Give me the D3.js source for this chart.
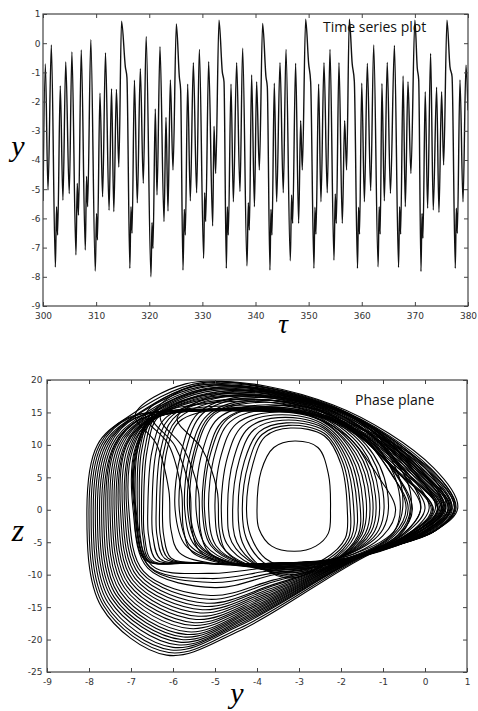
<!DOCTYPE html>
<html>
<head>
<meta charset="utf-8">
<script src="https://cdn.jsdelivr.net/npm/d3@7"></script>
<style>
  body { margin: 0; background: #fff; }
  .tick text { font-family: "DejaVu Sans", sans-serif; font-size: 9px; fill: #333; }
  .tick line { stroke: #444; }
</style>
</head>
<body>
<script>
// --- time series: tau and y (extrema + notches)
var seriesTau = [300.0, 300.44, 300.94, 301.57, 302.33, 302.55, 302.75, 303.25, 303.75, 304.28,
  304.94, 305.44, 306.2, 306.45, 306.68, 307.2, 307.96, 308.2, 308.4, 309.0,
  309.84, 310.08, 310.25, 310.72, 311.22, 311.76, 312.44, 312.9, 313.33, 313.82,
  314.27, 314.78, 315.5, 315.8, 316.35, 316.56, 316.76, 317.21, 317.75, 318.32,
  318.88, 319.42, 320.32, 320.52, 320.7, 321.14, 321.46, 322.02, 322.78, 323.15,
  323.53, 323.97, 324.47, 325.1, 325.66, 325.91, 326.35, 326.6, 326.79, 327.23,
  327.73, 328.3, 328.92, 329.43, 330.24, 330.43, 330.62, 331.18, 331.94, 332.19,
  332.5, 333.13, 333.75, 334.07, 334.51, 334.7, 334.88, 335.39, 335.83, 336.45,
  337.08, 337.58, 338.4, 338.65, 338.84, 339.27, 339.8, 340.21, 340.72, 341.34,
  341.97, 342.22, 342.72, 342.91, 343.1, 343.54, 343.98, 344.61, 345.23, 345.74,
  346.55, 346.8, 346.99, 347.55, 348.12, 348.5, 348.81, 349.44, 350.0, 350.38,
  351.0, 351.19, 351.38, 351.88, 352.32, 352.89, 353.51, 354.02, 354.77, 355.02,
  355.21, 355.71, 356.34, 356.78, 357.15, 357.66, 358.2, 358.6, 359.2, 359.4,
  359.58, 360.0, 360.5, 361.05, 361.68, 362.25, 363.08, 363.28, 363.47, 363.8,
  364.25, 364.8, 365.4, 366.15, 366.93, 367.13, 367.32, 367.78, 368.2, 368.7,
  369.25, 370.0, 370.45, 370.72, 371.15, 371.34, 371.52, 371.95, 372.4, 372.96,
  373.46, 374.09, 374.53, 375.03, 375.41, 376.04, 376.6, 377.0, 377.61, 377.8,
  377.99, 378.49, 379.06, 379.62, 380.0];
var seriesY = [-5.4, -0.71, -5.03, -0.06, -7.67, -5.6, -6.57, -1.46, -5.38, -0.64,
  -5.15, -0.3, -7.25, -4.8, -5.89, -0.23, -7.08, -4.56, -5.6, 0.12,
  -7.8, -5.83, -6.74, -1.71, -5.26, -0.33, -5.72, -1.56, -5.77, -1.58,
  -4.24, 0.75, -0.81, -1.18, -7.71, -5.6, -6.51, -1.27, -5.47, -0.87,
  -4.8, 0.23, -8.0, -6.14, -7.03, -2.25, -5.2, -0.12, -6.11, -2.54,
  -5.75, -1.26, -4.34, 0.66, -1.15, -1.6, -7.77, -5.69, -6.57, -1.4,
  -5.4, -0.67, -5.12, -0.21, -7.37, -5.12, -6.11, -0.63, -6.26, -2.84,
  -4.46, 0.79, -0.98, -1.32, -7.71, -5.6, -6.57, -1.4, -5.43, -0.67,
  -5.08, -0.17, -7.63, -5.46, -6.4, -1.09, -5.6, -1.32, -4.34, 0.68,
  -1.15, -1.49, -7.77, -5.69, -6.57, -1.37, -5.43, -0.67, -5.12, -0.21,
  -7.45, -5.2, -6.17, -0.69, -6.17, -2.65, -4.34, 0.82, -0.69, -1.32,
  -7.71, -5.62, -6.54, -1.4, -5.43, -0.67, -5.12, -0.21, -7.43, -5.16,
  -6.17, -0.67, -6.17, -2.65, -4.34, 0.82, -0.7, -1.3, -7.71, -5.62,
  -6.54, -1.37, -5.43, -0.69, -5.05, -0.06, -7.66, -5.6, -6.54, -1.38,
  -5.4, -0.66, -5.14, -0.08, -7.68, -5.6, -6.54, -1.12, -5.6, -1.32,
  -4.46, 0.79, -0.85, -1.25, -7.82, -5.83, -6.68, -1.66, -5.65, -0.35,
  -5.71, -1.51, -5.8, -1.66, -4.17, 0.79, -0.8, -1.15, -7.71, -5.65,
  -6.51, -1.26, -5.43, -0.75, -2.3];

var tauTicks = [300, 310, 320, 330, 340, 350, 360, 370, 380];
var yTicksTop = [-9, -8, -7, -6, -5, -4, -3, -2, -1, 0, 1];

// --- phase plane: orbit loops [y, z]
// big loops that reach down to the bottom of the attractor
var outerLoops = [
  [[-8.05,0],[-7.8,10],[-7.1,14.2],[-5.3,19.6],[-2.2,16.2],[0.2,6.5],[0.78,0.3],[0.3,-3],[-1.3,-6.8],[-4.4,-18.6],[-6.15,-22.4],[-7.7,-15]],
  [[-8.0,0],[-7.75,10],[-7.08,14.15],[-5.6,15.3],[-2.7,15.1],[0,7],[0.74,0.3],[0.28,-3.1],[-1.35,-6.85],[-4.4,-18.2],[-6.1,-22],[-7.65,-14.8]],
  [[-7.95,0],[-7.7,10],[-7.05,14.1],[-5.0,15.4],[-2.6,14.8],[-0.2,7.5],[0.7,0.4],[0.25,-3.2],[-1.4,-6.9],[-4.4,-17.8],[-6.05,-21.6],[-7.6,-14.6]],
  [[-7.9,0],[-7.65,10],[-7.0,14.1],[-5.25,19.3],[-2.15,15.8],[0.15,6.3],[0.72,0.3],[0.22,-3.3],[-1.45,-7.05],[-4.35,-17.4],[-6.0,-21.2],[-7.55,-14.3]],
  [[-7.85,0],[-7.6,10],[-6.95,14.2],[-5.2,19.1],[-2.1,15.6],[0.1,6.2],[0.7,0.3],[0.2,-3.4],[-1.5,-7.2],[-4.3,-17],[-5.9,-20.8],[-7.5,-14]],
  [[-7.8,0],[-7.55,10],[-6.92,14.1],[-4.9,15.5],[-2.55,14.6],[-0.25,7.2],[0.65,0.2],[0.15,-3.45],[-1.55,-7.3],[-4.25,-16.6],[-5.85,-20.4],[-7.45,-13.7]],
  [[-7.75,0],[-7.5,10],[-6.9,14.1],[-4.8,15.6],[-2.5,14.5],[-0.3,7],[0.6,0.2],[0.1,-3.5],[-1.6,-7.4],[-4.2,-16.2],[-5.8,-20],[-7.4,-13.5]],
  [[-7.7,0],[-7.45,10],[-6.85,14.05],[-5.15,19],[-2.05,15.4],[0.05,6.1],[0.64,0.3],[0.05,-3.55],[-1.65,-7.5],[-4.15,-15.8],[-5.75,-19.6],[-7.35,-13.2]],
  [[-7.65,0],[-7.4,10],[-6.8,14],[-5.1,18.8],[-2.0,15.2],[0,6],[0.62,0.3],[0,-3.6],[-1.7,-7.6],[-4.1,-15.4],[-5.7,-19.2],[-7.3,-13]],
  [[-7.6,0],[-7.38,10],[-6.78,14],[-4.7,15.5],[-2.45,14.3],[-0.35,6.9],[0.55,0.2],[-0.05,-3.7],[-1.75,-7.7],[-4.05,-15],[-5.65,-18.8],[-7.25,-12.7]],
  [[-7.55,0],[-7.35,10],[-6.75,14],[-4.6,15.5],[-2.4,14.2],[-0.4,6.8],[0.5,0.2],[-0.1,-3.8],[-1.8,-7.8],[-4.0,-14.6],[-5.6,-18.3],[-7.2,-12.4]],
  [[-7.5,0],[-7.3,10],[-6.72,13.95],[-5.05,18.6],[-2.0,15.1],[-0.05,5.9],[0.57,0.2],[-0.15,-3.85],[-1.85,-7.9],[-3.95,-14.2],[-5.55,-17.8],[-7.15,-12.1]],
  [[-7.45,0],[-7.25,10],[-6.7,13.9],[-5,18.4],[-2,15],[-0.1,5.8],[0.55,0.2],[-0.2,-3.9],[-1.9,-8],[-3.9,-13.8],[-5.5,-17.4],[-7.1,-11.8]],
  [[-7.4,0],[-7.2,10],[-6.65,13.9],[-4.55,15.4],[-2.35,14.1],[-0.45,6.6],[0.42,0.1],[-0.25,-3.95],[-1.95,-8.1],[-3.85,-13.4],[-5.45,-16.9],[-7.05,-11.5]],
  [[-7.35,0],[-7.15,10],[-6.6,13.9],[-4.5,15.4],[-2.3,14],[-0.5,6.5],[0.4,0.1],[-0.3,-4],[-2,-8.2],[-3.8,-13],[-5.4,-16.4],[-7,-11.2]],
  [[-7.3,0],[-7.12,10],[-6.58,13.95],[-4.95,18.2],[-1.95,14.9],[-0.15,5.7],[0.47,0.1],[-0.32,-4.05],[-2.05,-8.3],[-3.75,-12.6],[-5.35,-15.9],[-6.95,-10.9]],
  [[-7.25,0],[-7.1,10],[-6.55,14],[-4.9,18],[-1.9,14.8],[-0.2,5.6],[0.45,0.1],[-0.35,-4.1],[-2.1,-8.4],[-3.7,-12.2],[-5.3,-15.4],[-6.9,-10.6]],
  [[-7.2,0],[-7.05,10],[-6.52,14],[-4.45,15.3],[-2.25,13.9],[-0.55,6.3],[0.32,0],[-0.4,-4.15],[-2.15,-8.45],[-3.65,-11.8],[-5.25,-14.9],[-6.85,-10.3]],
  [[-7.15,0],[-7.0,10],[-6.5,14],[-4.4,15.3],[-2.2,13.8],[-0.6,6.2],[0.3,0],[-0.45,-4.2],[-2.2,-8.5],[-3.6,-11.5],[-5.2,-14.4],[-6.8,-10]],
  [[-7.1,0],[-6.98,9.7],[-6.5,14],[-4.85,17.8],[-1.85,14.6],[-0.25,5.5],[0.38,0],[-0.48,-4.25],[-2.25,-8.55],[-3.6,-11.1],[-5.15,-13.8],[-6.75,-9.7]],
  [[-7.05,0],[-6.95,9.5],[-6.5,14],[-4.8,17.6],[-1.8,14.4],[-0.3,5.4],[0.35,0],[-0.5,-4.3],[-2.3,-8.6],[-3.6,-10.8],[-5.1,-13.2],[-6.7,-9.5]],
  [[-6.95,0],[-6.9,9.5],[-6.45,14],[-4.3,15.2],[-2.1,13.6],[-0.7,6],[0.2,0],[-0.55,-4.4],[-2.4,-8.5],[-3.6,-10],[-5,-12],[-6.6,-9]],
  [[-6.92,0],[-6.88,9.5],[-6.47,14],[-4.6,15.3],[-2.2,13.7],[-0.65,6],[0.18,0],[-0.58,-4.4],[-2.4,-8.55],[-3.65,-9.8],[-5.05,-11.2],[-6.55,-8.9]],
  [[-6.9,0],[-6.86,9.5],[-6.45,14],[-4.5,15.3],[-2.1,13.6],[-0.7,6],[0.15,0],[-0.6,-4.45],[-2.45,-8.6],[-3.7,-9.4],[-5.1,-10.6],[-6.55,-8.8]],
  [[-6.88,0],[-6.84,9.5],[-6.43,14],[-4.8,17.4],[-1.8,14.2],[-0.35,5.2],[0.3,0],[-0.5,-4.35],[-2.4,-8.55],[-3.7,-8.9],[-5.1,-9.8],[-6.5,-8.6]]
];
// loops with the flat bottom near z = -8
var middleLoops = [
  [[-6.9,0],[-6.85,9],[-6.55,14.5],[-5.6,18.9],[-4,18.6],[-1.6,14],[0,6.5],[0.5,0.6],[0.05,-3.2],[-1.5,-7.2],[-3,-8.15],[-5.6,-8.25],[-6.65,-7.8],[-6.88,-4]],
  [[-6.85,0],[-6.8,9],[-6.5,14.45],[-5.45,18.3],[-3.8,17.9],[-1.6,13.4],[-0.15,6.2],[0.4,0.5],[-0.1,-3.3],[-1.55,-7.25],[-3,-8.15],[-5.6,-8.23],[-6.62,-7.8],[-6.83,-4]],
  [[-6.8,0],[-6.75,9],[-6.45,14.4],[-5.3,17.6],[-3.6,17.2],[-1.6,12.8],[-0.3,6],[0.25,0.4],[-0.2,-3.4],[-1.6,-7.3],[-3,-8.15],[-5.6,-8.22],[-6.6,-7.8],[-6.78,-4]],
  [[-6.75,0],[-6.68,9],[-6.4,14.35],[-5.45,16.2],[-3.5,16.4],[-1.7,12.5],[-0.45,5.8],[0.1,0.35],[-0.35,-3.5],[-1.65,-7.35],[-3,-8.15],[-5.6,-8.21],[-6.55,-7.8],[-6.72,-4]],
  [[-6.7,0],[-6.62,9],[-6.35,14.3],[-5.6,15.6],[-3.4,15.6],[-1.8,12.2],[-0.6,5.5],[-0.1,0.3],[-0.5,-3.6],[-1.7,-7.4],[-3,-8.15],[-5.6,-8.2],[-6.5,-7.8],[-6.68,-4]],
  [[-6.6,0],[-6.5,9],[-6.2,14],[-5.2,16.6],[-3.2,16.4],[-1.7,12.5],[-0.8,5.5],[-0.4,0.2],[-0.7,-3.8],[-1.8,-7.5],[-3,-8.15],[-5.6,-8.2],[-6.4,-7.7],[-6.58,-4]],
  [[-6.5,0],[-6.4,9],[-6.1,14],[-5.0,17.3],[-3.1,16.8],[-1.5,12.6],[-0.5,5.5],[0,0.25],[-0.45,-3.55],[-1.7,-7.35],[-3,-8.12],[-5.5,-8.2],[-6.3,-7.6],[-6.48,-4]],
  [[-6.4,0],[-6.3,9],[-6.0,14],[-4.8,18],[-3,17.3],[-1.3,12.8],[-0.2,5.5],[0.3,0.3],[-0.2,-3.3],[-1.6,-7.2],[-3,-8.1],[-5.4,-8.2],[-6.2,-7.5],[-6.38,-4]],
  [[-6.32,0],[-6.22,9],[-5.92,13.8],[-4.85,16.8],[-3.05,16.2],[-1.6,12.2],[-0.65,5.2],[-0.3,0.1],[-0.6,-3.7],[-1.8,-7.35],[-3.1,-8.12],[-5.35,-8.2],[-6.12,-7.45],[-6.3,-4]],
  [[-6.25,0],[-6.15,9],[-5.85,13.6],[-4.9,15.5],[-3.1,15.2],[-1.9,11.6],[-1.1,5],[-0.7,0],[-1,-4],[-2,-7.5],[-3.2,-8.15],[-5.3,-8.2],[-6.05,-7.4],[-6.22,-4]]
];
// loops whose left side leans across the others
var crossLoops = [
  [[-6.05,-3],[-6.1,3],[-6.4,10.2],[-6.9,14.6],[-5.7,19.4],[-3.9,19],[-1.8,14.8],[-0.3,7],[0.6,0.5],[0.15,-3],[-1.4,-6.9],[-3,-8.2],[-5,-8.3],[-5.85,-6.6]],
  [[-5.75,-3],[-5.8,3],[-6.1,10],[-6.65,14.6],[-5.4,19.3],[-3.6,18.6],[-1.5,13.6],[-0.1,6.2],[0.45,0.5],[0,-3.2],[-1.5,-7.1],[-3,-8.3],[-4.7,-8.4],[-5.55,-6.5]],
  [[-5.55,-3],[-5.6,3],[-5.95,9.8],[-6.5,14.5],[-5.1,18.7],[-3.3,17.8],[-1.6,13],[-0.5,6],[-0.1,0.3],[-0.5,-3.6],[-1.7,-7.4],[-3,-8.5],[-4.5,-8.6],[-5.35,-6.5]],
  [[-5.35,-3],[-5.4,3],[-5.75,9.5],[-6.3,14.4],[-4.9,18.2],[-3.1,17.2],[-1.7,12.4],[-0.8,5.6],[-0.45,0.2],[-0.75,-3.8],[-1.85,-7.6],[-3.1,-8.8],[-4.3,-8.7],[-5.15,-6.5]],
  [[-4.9,-3],[-4.95,3],[-5.3,9.3],[-5.9,14.2],[-4.6,17.6],[-2.9,16.4],[-1.6,11.8],[-0.7,5.5],[-0.35,0.2],[-0.65,-3.9],[-1.9,-7.8],[-3.2,-9.2],[-4.1,-8.9],[-4.75,-6.3]]
];
// ovals round the empty centre
var innerLoops = [
  [[-5.95,0],[-5.8,9],[-5.4,14.9],[-4.4,17.4],[-2.6,16.2],[-1.1,10.5],[-0.55,3.2],[-0.7,-3],[-1.7,-6.8],[-3.2,-8.2],[-4.9,-8],[-5.7,-5.5]],
  [[-5.85,0],[-5.7,9],[-5.3,14.8],[-4.3,17.2],[-2.8,16],[-1.4,10],[-0.9,3],[-1.0,-3],[-1.8,-6.8],[-3.2,-8.3],[-4.8,-8],[-5.6,-5.5]],
  [[-5.72,0],[-5.58,9],[-5.18,14.6],[-4.2,16.9],[-2.75,15.6],[-1.45,9.8],[-1.0,2.8],[-1.1,-3.1],[-1.85,-6.9],[-3.2,-8.45],[-4.7,-8.1],[-5.48,-5.5]],
  [[-5.65,0],[-5.5,9],[-5.1,14.6],[-4.0,16.8],[-2.4,15.4],[-1.0,9.8],[-0.35,2.8],[-0.5,-3.2],[-1.6,-7.0],[-3.1,-8.4],[-4.6,-8.2],[-5.4,-5.5]],
  [[-5.6,0],[-5.45,9],[-5.05,14.5],[-4.1,16.5],[-2.7,15.3],[-1.5,9.5],[-1.1,2.5],[-1.2,-3.3],[-1.9,-7],[-3.2,-8.6],[-4.6,-8.2],[-5.35,-5.5]],
  [[-5.45,0],[-5.3,9],[-4.92,14.1],[-4.0,16.1],[-2.65,14.9],[-1.55,9.2],[-1.18,2.2],[-1.28,-3.4],[-1.95,-7.15],[-3.2,-8.8],[-4.5,-8.25],[-5.22,-5.5]],
  [[-5.3,0],[-5.15,9],[-4.8,13.8],[-3.9,15.8],[-2.6,14.5],[-1.6,9],[-1.25,2],[-1.35,-3.5],[-2,-7.3],[-3.2,-9],[-4.4,-8.3],[-5.1,-5.5]],
  [[-5.25,0],[-5.1,8.8],[-4.7,14],[-3.7,16],[-2.2,14.8],[-1.05,9],[-0.6,2],[-0.75,-3.5],[-1.75,-7.2],[-3.1,-8.7],[-4.3,-8.3],[-5.05,-5.5]],
  [[-5.15,0],[-5.0,8.7],[-4.65,13.5],[-3.8,15.4],[-2.55,14.1],[-1.65,8.7],[-1.32,1.7],[-1.42,-3.65],[-2.05,-7.45],[-3.2,-9.25],[-4.3,-8.4],[-4.98,-5.5]],
  [[-5.0,0],[-4.85,8.5],[-4.5,13.2],[-3.7,15],[-2.5,13.8],[-1.7,8.5],[-1.4,1.5],[-1.5,-3.8],[-2.1,-7.6],[-3.2,-9.5],[-4.2,-8.5],[-4.85,-5.5]],
  [[-4.85,0],[-4.7,8.2],[-4.35,12.9],[-3.6,14.6],[-2.48,13.4],[-1.75,8.2],[-1.48,1.2],[-1.55,-3.9],[-2.15,-7.75],[-3.2,-9.75],[-4.1,-8.55],[-4.72,-5.2]],
  [[-4.7,0],[-4.55,8],[-4.2,12.6],[-3.5,14.2],[-2.45,13],[-1.8,8],[-1.55,1],[-1.6,-4],[-2.2,-7.9],[-3.2,-10],[-4.0,-8.6],[-4.6,-5]],
  [[-4.58,0],[-4.42,7.7],[-4.08,12.3],[-3.4,13.8],[-2.42,12.6],[-1.85,7.7],[-1.62,0.7],[-1.68,-4.1],[-2.25,-7.95],[-3.2,-10.25],[-3.95,-8.7],[-4.48,-5]],
  [[-4.45,0],[-4.3,7.5],[-3.95,12],[-3.3,13.4],[-2.4,12.2],[-1.9,7.5],[-1.7,0.5],[-1.75,-4.2],[-2.3,-8],[-3.2,-10.5],[-3.9,-8.8],[-4.35,-5]],
  [[-4.35,0],[-4.2,7.2],[-3.88,11.6],[-3.25,13],[-2.4,11.8],[-1.95,7.2],[-1.78,0.2],[-1.82,-4.3],[-2.35,-7.8],[-3.15,-9.7],[-3.85,-8.1],[-4.25,-4.5]],
  [[-4.25,0],[-4.1,7],[-3.8,11.3],[-3.2,12.6],[-2.4,11.4],[-2.0,7],[-1.85,0],[-1.9,-4.4],[-2.4,-7.6],[-3.1,-9],[-3.8,-7.5],[-4.15,-4]],
  [[-4.0,0],[-3.9,6],[-3.6,9.6],[-3.1,10.6],[-2.55,9.6],[-2.3,5.5],[-2.25,0],[-2.3,-3.6],[-2.6,-5.6],[-3.1,-6.4],[-3.65,-5.6],[-3.95,-3]]
];

var phaseYTicks = [-9, -8, -7, -6, -5, -4, -3, -2, -1, 0, 1];
var phaseZTicks = [-25, -20, -15, -10, -5, 0, 5, 10, 15, 20];

var svg = d3.select("body").append("svg")
    .attr("width", 478)
    .attr("height", 711);

// draws frame + inward ticks on all 4 sides
function drawFrame(x, y, xTicks, yTicks, xPad, yPad) {
    var x0 = x.range()[0], x1 = x.range()[1];
    var y0 = y.range()[1], y1 = y.range()[0];
    var g = svg.append("g");

    g.append("g").attr("transform", "translate(0," + y1 + ")")
        .call(d3.axisBottom(x).tickValues(xTicks).tickSize(-4).tickPadding(xPad).tickFormat(String));
    g.append("g").attr("transform", "translate(0," + y0 + ")")
        .call(d3.axisTop(x).tickValues(xTicks).tickSize(-4).tickFormat(""));
    g.append("g").attr("transform", "translate(" + x0 + ",0)")
        .call(d3.axisLeft(y).tickValues(yTicks).tickSize(-4).tickPadding(yPad).tickFormat(String));
    g.append("g").attr("transform", "translate(" + x1 + ",0)")
        .call(d3.axisRight(y).tickValues(yTicks).tickSize(-4).tickFormat(""));
    g.selectAll(".domain").remove();

    g.append("rect")
        .attr("x", x0).attr("y", y0)
        .attr("width", x1 - x0).attr("height", y1 - y0)
        .attr("fill", "none")
        .attr("stroke", "#444")
        .attr("stroke-width", 1.2);
}

// ---------- top panel
var xT = d3.scaleLinear().domain([300, 380]).range([43, 468]);
var yT = d3.scaleLinear().domain([-9, 1]).range([306, 14]);

svg.append("clipPath").attr("id", "clipTop")
    .append("rect").attr("x", 43).attr("y", 14).attr("width", 425).attr("height", 292);

var seriesData = seriesTau.map(function (t, i) { return [t, seriesY[i]]; });

svg.append("path")
    .datum(seriesData)
    .attr("clip-path", "url(#clipTop)")
    .attr("fill", "none")
    .attr("stroke", "#111")
    .attr("stroke-width", 1.4)
    .attr("stroke-linejoin", "round")
    .attr("d", d3.line()
        .x(function (d) { return xT(d[0]); })
        .y(function (d) { return yT(d[1]); })
        .curve(d3.curveMonotoneX));

drawFrame(xT, yT, tauTicks, yTicksTop, 7, 2.5);

svg.append("text")
    .attr("x", 323).attr("y", 32)
    .attr("font-family", "'Open Sans', sans-serif")
    .attr("font-size", "14px")
    .attr("fill", "#111")
    .text("Time series plot");

svg.append("text")
    .attr("x", 18).attr("y", 156)
    .attr("text-anchor", "middle")
    .attr("font-family", "'Liberation Serif', serif")
    .attr("font-style", "italic")
    .attr("font-size", "30px")
    .text("y");

svg.append("text")
    .attr("x", 283).attr("y", 333)
    .attr("text-anchor", "middle")
    .attr("font-family", "'Liberation Serif', serif")
    .attr("font-style", "italic")
    .attr("font-size", "27px")
    .text("τ");

// ---------- bottom panel
var xP = d3.scaleLinear().domain([-9, 1]).range([47, 467]);
var yP = d3.scaleLinear().domain([-25, 20]).range([672, 380]);

svg.append("clipPath").attr("id", "clipBottom")
    .append("rect").attr("x", 47).attr("y", 380).attr("width", 420).attr("height", 292);

var loopLine = d3.line()
    .x(function (d) { return xP(d[0]); })
    .y(function (d) { return yP(d[1]); })
    .curve(d3.curveCatmullRomClosed.alpha(0.5));

var allLoops = outerLoops.concat(middleLoops, crossLoops, innerLoops);

svg.append("g")
    .attr("clip-path", "url(#clipBottom)")
    .selectAll("path")
    .data(allLoops)
    .enter()
    .append("path")
    .attr("fill", "none")
    .attr("stroke", "#000")
    .attr("stroke-width", 1.1)
    .attr("d", loopLine);

drawFrame(xP, yP, phaseYTicks, phaseZTicks, 7, 4.5);

svg.append("text")
    .attr("x", 355).attr("y", 405)
    .attr("font-family", "'Open Sans', sans-serif")
    .attr("font-size", "14px")
    .attr("fill", "#111")
    .text("Phase plane");

svg.append("text")
    .attr("x", 18).attr("y", 541)
    .attr("text-anchor", "middle")
    .attr("font-family", "'Liberation Serif', serif")
    .attr("font-style", "italic")
    .attr("font-size", "32px")
    .text("z");

svg.append("text")
    .attr("x", 237).attr("y", 703)
    .attr("text-anchor", "middle")
    .attr("font-family", "'Liberation Serif', serif")
    .attr("font-style", "italic")
    .attr("font-size", "30px")
    .text("y");
</script>
</body>
</html>
